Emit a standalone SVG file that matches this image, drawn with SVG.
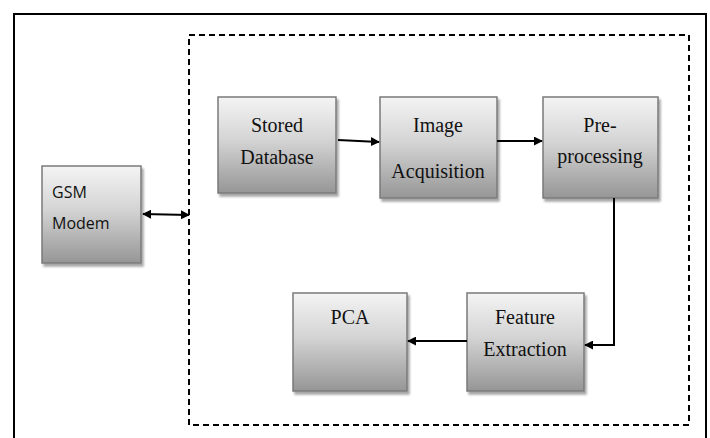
<svg xmlns="http://www.w3.org/2000/svg" width="710" height="438" viewBox="0 0 710 438">
<defs>
<linearGradient id="g" x1="0" y1="0" x2="0" y2="1">
<stop offset="0" stop-color="#f4f4f4"/>
<stop offset="0.45" stop-color="#d4d4d4"/>
<stop offset="1" stop-color="#969696"/>
</linearGradient>
<filter id="sh" x="-10%" y="-10%" width="130%" height="130%">
<feDropShadow dx="2" dy="3" stdDeviation="1.2" flood-color="#000" flood-opacity="0.35"/>
</filter>
<marker id="ah" viewBox="0 0 10 10" refX="9" refY="5" markerWidth="9" markerHeight="9" markerUnits="userSpaceOnUse" orient="auto-start-reverse">
<path d="M0,0 L10,5 L0,10 z" fill="#000"/>
</marker>
</defs>
<style>
.box{fill:url(#g);stroke:#7a7a7a;stroke-width:1.5;filter:url(#sh)}
.t{font-family:"Liberation Serif","Times New Roman",serif;font-size:20px;fill:#111;text-anchor:middle}
.s{font-family:"Open Sans","Liberation Sans",Arial,sans-serif;font-size:16px;fill:#111}
.c{fill:none;stroke:#000;stroke-width:2}
</style>
<rect x="0" y="0" width="710" height="438" fill="#fff"/>
<rect x="14" y="14" width="692" height="440" fill="none" stroke="#000" stroke-width="2"/>
<rect x="189" y="35" width="500" height="390" fill="none" stroke="#000" stroke-width="2" stroke-dasharray="6,4"/>
<g id="gsm"><rect class="box" x="42" y="166" width="99" height="97"/><text class="s" x="52" y="198">GSM</text><text class="s" x="52" y="229">Modem</text></g>
<g id="stored"><rect class="box" x="218" y="97" width="118" height="96"/><text class="t" x="277" y="132">Stored</text><text class="t" x="277" y="164">Database</text></g>
<g id="image"><rect class="box" x="380" y="97" width="117" height="101"/><text class="t" x="438" y="132">Image</text><text class="t" x="438" y="178">Acquisition</text></g>
<g id="pre"><rect class="box" x="543" y="97" width="115" height="101"/><text class="t" x="600" y="132">Pre-</text><text class="t" x="600" y="163">processing</text></g>
<g id="pca"><rect class="box" x="293" y="293" width="114" height="98"/><text class="t" x="350" y="324">PCA</text></g>
<g id="feature"><rect class="box" x="467" y="293" width="117" height="98"/><text class="t" x="525" y="324">Feature</text><text class="t" x="525" y="356">Extraction</text></g>
<g id="connectors">
<line class="c" x1="143" y1="214" x2="189" y2="215" marker-start="url(#ah)" marker-end="url(#ah)"/>
<line class="c" x1="338" y1="140" x2="379" y2="142" marker-end="url(#ah)"/>
<line class="c" x1="497" y1="141" x2="542" y2="141" marker-end="url(#ah)"/>
<polyline class="c" points="614,198 614,345 585,345" marker-end="url(#ah)"/>
<line class="c" x1="467" y1="341" x2="408" y2="341" marker-end="url(#ah)"/>
</g>
</svg>
